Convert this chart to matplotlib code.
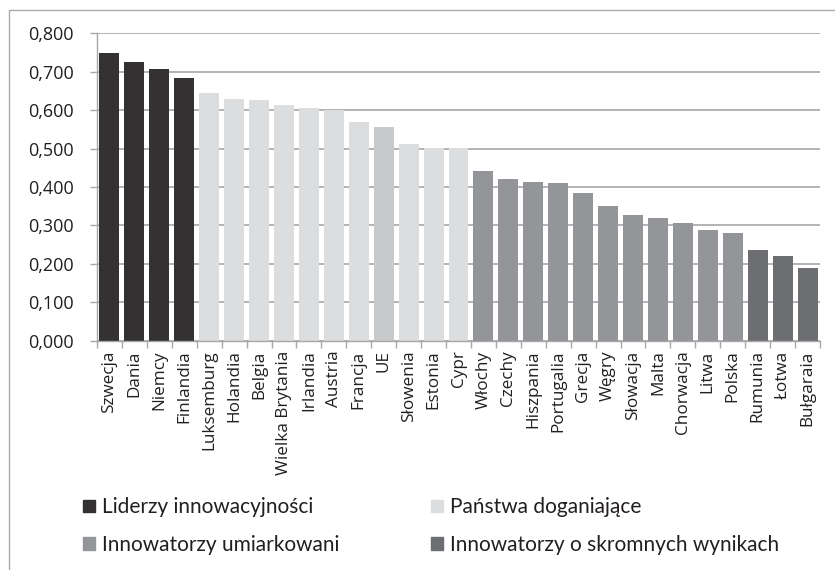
import matplotlib
matplotlib.use("Agg")
import matplotlib.pyplot as plt
from matplotlib.patches import Patch, Rectangle
import numpy as np

# data
countries = [
    "Szwecja", "Dania", "Niemcy", "Finlandia",
    "Luksemburg", "Holandia", "Belgia", "Wielka Brytania", "Irlandia", "Austria",
    "Francja", "UE", "Słowenia", "Estonia", "Cypr",
    "Włochy", "Czechy", "Hiszpania", "Portugalia", "Grecja", "Węgry", "Słowacja",
    "Malta", "Chorwacja", "Litwa", "Polska",
    "Rumunia", "Łotwa", "Bułgaraia",
]
values = [
    0.749, 0.726, 0.708, 0.683,
    0.645, 0.628, 0.625, 0.612, 0.605, 0.599,
    0.570, 0.555, 0.513, 0.502, 0.502,
    0.442, 0.420, 0.412, 0.409, 0.383, 0.350, 0.326,
    0.319, 0.305, 0.289, 0.279,
    0.237, 0.221, 0.189,
]
groups = [
    "lead", "lead", "lead", "lead",
    "catch", "catch", "catch", "catch", "catch", "catch",
    "catch", "eu", "catch", "catch", "catch",
    "mod", "mod", "mod", "mod", "mod", "mod", "mod",
    "mod", "mod", "mod", "mod",
    "modest", "modest", "modest",
]
legend_labels = {
    "lead": "Liderzy innowacyjności",
    "catch": "Państwa doganiające",
    "mod": "Innowatorzy umiarkowani",
    "modest": "Innowatorzy o skromnych wynikach",
}
yticks = [0.0, 0.1, 0.2, 0.3, 0.4, 0.5, 0.6, 0.7, 0.8]

COLORS = {
    "lead": "#333132",
    "catch": "#dcdddf",
    "eu": "#c8c9cb",
    "mod": "#939598",
    "modest": "#6d6e71",
}
GRID = "#a7a7a9"
TEXT = "#231f20"

fig = plt.figure(figsize=(8.35, 5.7), dpi=100)
ax = fig.add_axes([97 / 835, 1 - 340.7 / 570, (820 - 97) / 835, (340.7 - 33.2) / 570])

x = np.arange(len(countries))
ax.bar(x, values, width=0.8, color=[COLORS[g] for g in groups], zorder=2)

ax.set_xlim(-0.5, len(countries) - 0.5)
ax.set_ylim(0, 0.8)
ax.set_yticks(yticks)
ax.set_yticklabels([f"{v:.3f}".replace(".", ",") for v in yticks],
                   fontsize=13, family="Open Sans", color=TEXT)
ax.set_xticks(x)
ax.set_xticklabels(countries, rotation=90, fontsize=12.3, family="Open Sans", color=TEXT)
ax.set_xticks(np.arange(len(countries) + 1) - 0.5, minor=True)
ax.tick_params(axis="x", which="major", length=0, pad=7)
ax.tick_params(axis="x", which="minor", length=5, color=GRID, width=1)
ax.tick_params(axis="y", length=5, color=GRID, width=1, pad=12)

ax.grid(axis="y", color=GRID, linewidth=1.2, zorder=0)
ax.set_axisbelow(True)
for side in ["top", "right"]:
    ax.spines[side].set_visible(False)
for side in ["left", "bottom"]:
    ax.spines[side].set_color(GRID)
    ax.spines[side].set_linewidth(1)

handles = [
    Patch(color=COLORS["lead"], label=legend_labels["lead"]),
    Patch(color=COLORS["mod"], label=legend_labels["mod"]),
    Patch(color=COLORS["catch"], label=legend_labels["catch"]),
    Patch(color=COLORS["modest"], label=legend_labels["modest"]),
]
leg = fig.legend(handles=handles, ncol=2, frameon=False, loc="upper left",
                 bbox_to_anchor=(75 / 835, 1 - 489 / 570),
                 prop={"family": "Lato", "size": 15},
                 handlelength=0.55, handleheight=0.55, handletextpad=0.35,
                 labelspacing=0.85, columnspacing=4.4, borderaxespad=0)
for t in leg.get_texts():
    t.set_color(TEXT)

# thin frame around the chart area
fig.add_artist(Rectangle((9 / 835, -0.1), 1.2, 1 - 10 / 570 + 0.1,
                         transform=fig.transFigure, fill=False,
                         edgecolor="#a9a9ab", linewidth=1))

fig.savefig("out.png", dpi=100)
